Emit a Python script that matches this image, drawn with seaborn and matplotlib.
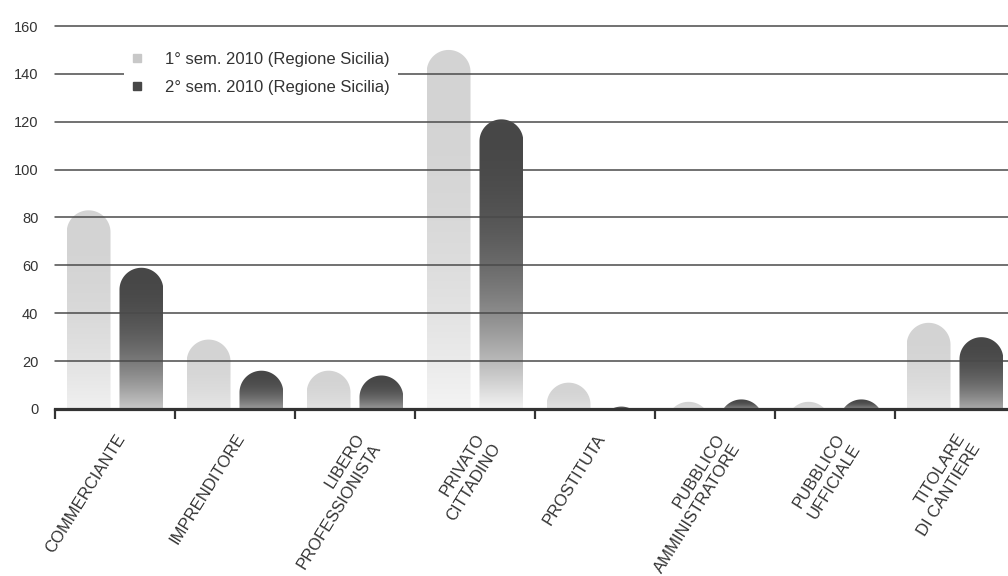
import numpy as np
import pandas as pd
import matplotlib
matplotlib.use("Agg")
import matplotlib.pyplot as plt
from matplotlib.path import Path
from matplotlib.patches import PathPatch
from matplotlib.lines import Line2D
from matplotlib.colors import to_rgb
import seaborn as sns

# ---- data -------------------------------------------------------------
categories = [
    "COMMERCIANTE", "IMPRENDITORE", "LIBERO\nPROFESSIONISTA", "PRIVATO\nCITTADINO",
    "PROSTITUTA", "PUBBLICO\nAMMINISTRATORE", "PUBBLICO\nUFFICIALE", "TITOLARE\nDI CANTIERE",
]
series_names = ["1° sem. 2010 (Regione Sicilia)", "2° sem. 2010 (Regione Sicilia)"]
first_half = [83, 29, 16, 150, 11, 3, 3, 36]
second_half = [59, 16, 14, 121, 1, 4, 4, 30]
y_ticks = [0, 20, 40, 60, 80, 100, 120, 140, 160]

top_colors = ["#d3d3d3", "#474747"]
bottom_color = "#f4f4f4"
ink = "#333333"

df = pd.DataFrame({
    "categoria": categories * 2,
    "valore": first_half + second_half,
    "periodo": [series_names[0]] * len(categories) + [series_names[1]] * len(categories),
})

# ---- figure -----------------------------------------------------------
sns.set_style("white")
plt.rcParams["font.family"] = ["Liberation Sans", "DejaVu Sans"]

W, H, DPI = 1008, 576, 100
fig = plt.figure(figsize=(W / DPI, H / DPI), dpi=DPI, facecolor="white")
ax = fig.add_axes([55 / W, (H - 409) / H, 960 / W, 383 / H])

sns.barplot(data=df, x="categoria", y="valore", hue="periodo",
            palette=top_colors, width=0.88, gap=0.17, ax=ax, legend=False)

ax.set_xlim(-0.5, len(categories) - 0.5)
ax.set_ylim(0, 160)

# pixel scale, used to keep the bar caps circular
px_x = ax.get_position().width * W / (len(categories))
px_y = ax.get_position().height * H / 160.0

def rounded_bar(x0, w, h, top_rgb):
    rx = w / 2.0
    ry = rx * px_x / px_y
    cx = x0 + rx
    yc = h - ry
    t = np.linspace(np.pi, 0, 60)
    verts = [(x0, -2 * ry - 5), (x0, yc)]
    verts += list(zip(cx + rx * np.cos(t), yc + ry * np.sin(t)))
    verts += [(x0 + w, -2 * ry - 5), (x0, -2 * ry - 5)]
    codes = [Path.MOVETO] + [Path.LINETO] * (len(verts) - 2) + [Path.CLOSEPOLY]
    clip = PathPatch(Path(verts, codes), transform=ax.transData,
                     facecolor="none", edgecolor="none")

    n = 256
    f = np.linspace(0, 1, n)
    floor = max(0.0, 0.6 * (1 - h / 100.0))
    m = floor + (1 - floor) * (1 - (1 - f) ** 2.3)
    top = np.array(top_rgb)
    bot = np.array(to_rgb(bottom_color))
    rgb = bot[None, :] + m[:, None] * (top - bot)[None, :]
    img = np.concatenate([rgb, np.ones((n, 1))], axis=1)[:, None, :]
    im = ax.imshow(img, extent=[x0, x0 + w, 0, h], origin="lower",
                   aspect="auto", interpolation="bilinear", zorder=2)
    im.set_clip_path(clip)

bars = list(ax.patches)
for bar in bars:
    x0, w, h = bar.get_x(), bar.get_width(), bar.get_height()
    if h <= 0 or np.isnan(h):
        bar.set_visible(False)
        continue
    col = bar.get_facecolor()[:3]
    bar.set_visible(False)
    rounded_bar(x0, w, h, col)

ax.set_xlim(-0.5, len(categories) - 0.5)
ax.set_ylim(0, 160)

# horizontal rules over the bars
for yv in y_ticks[1:]:
    ax.axhline(yv, color="#4a4a4a", lw=1.1, zorder=3, clip_on=False)

# axes styling
for side in ["left", "right", "top"]:
    ax.spines[side].set_visible(False)
ax.spines["bottom"].set_color(ink)
ax.spines["bottom"].set_linewidth(2.3)
ax.spines["bottom"].set_zorder(4)

ax.set_yticks(y_ticks)
ax.set_yticklabels([str(v) for v in y_ticks])
ax.tick_params(axis="y", length=0, pad=12, labelsize=10.5, labelcolor=ink)

ax.set_xticks(range(len(categories)))
ax.set_xticklabels(categories)
ax.set_xticks(np.arange(-0.5, len(categories)), minor=True)
ax.tick_params(axis="x", which="major", bottom=True, length=0, pad=16,
               labelsize=12, labelcolor=ink)
ax.tick_params(axis="x", which="minor", bottom=True, length=7.5, width=1.6,
               color=ink, direction="out")
for lab in ax.get_xticklabels():
    lab.set_rotation(58)
    lab.set_ha("right")
    lab.set_va("top")
    lab.set_rotation_mode("anchor")
    lab.set_multialignment("right")
    lab.set_linespacing(1.3)

ax.set_xlabel("")
ax.set_ylabel("")
ax.grid(False)

handles = [Line2D([0], [0], marker="s", linestyle="none", markersize=6,
                  markerfacecolor=c, markeredgecolor=c) for c in ["#c8c8c8", "#474747"]]
leg = ax.legend(handles, series_names, loc="upper left",
                bbox_to_anchor=(124 / W, 1 - 44 / H), bbox_transform=fig.transFigure,
                borderaxespad=0, frameon=True, fancybox=False, facecolor="white",
                edgecolor="none", framealpha=1, fontsize=12, labelcolor=ink,
                handlelength=0.6, handletextpad=1.35, labelspacing=0.78,
                borderpad=0.5)
leg.set_zorder(6)

fig.savefig("out.png", dpi=DPI, facecolor="white")
